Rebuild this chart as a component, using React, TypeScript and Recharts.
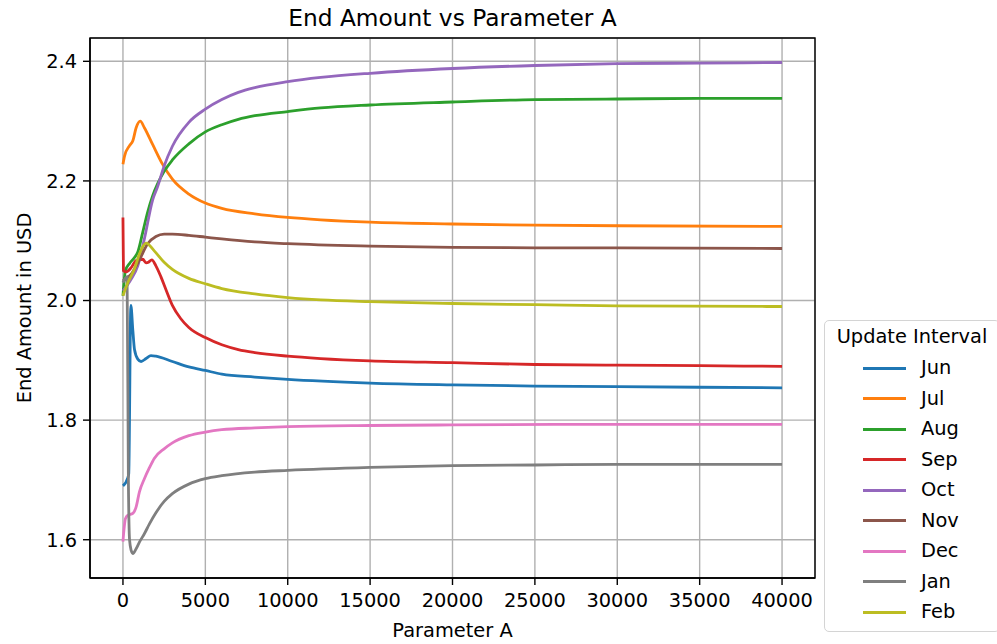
import React from "react";
import { LineChart, Line, XAxis, YAxis, CartesianGrid, Legend, ReferenceArea } from "recharts";

const FONT = "DejaVu Sans";
const X_TICKS = [0, 5000, 10000, 15000, 20000, 25000, 30000, 35000, 40000];
const Y_TICKS = [1.6, 1.8, 2.0, 2.2, 2.4];
const X_DOMAIN = [-2000, 42000];
const Y_DOMAIN = [1.536, 2.439];

const junX = [0, 300, 350, 480, 600, 700, 900, 1100, 1400, 1700, 2000, 3000, 4000, 5000, 6000, 8000, 10000, 15000, 20000, 25000, 30000, 40000];
const junY = [1.690, 1.704, 1.71, 1.992, 1.950, 1.918, 1.902, 1.898, 1.903, 1.908, 1.907, 1.898, 1.889, 1.883, 1.877, 1.872, 1.868, 1.862, 1.859, 1.857, 1.856, 1.854];

const julX = [0, 100, 400, 600, 800, 1050, 1300, 1800, 2400, 3000, 4000, 5000, 6000, 8000, 10000, 12000, 15000, 20000, 25000, 30000, 40000];
const julY = [2.228, 2.242, 2.259, 2.267, 2.289, 2.300, 2.289, 2.261, 2.228, 2.203, 2.178, 2.163, 2.154, 2.145, 2.139, 2.135, 2.131, 2.128, 2.126, 2.125, 2.124];

const augX = [0, 150, 400, 700, 900, 1200, 1500, 1800, 2100, 2500, 3000, 4000, 5000, 6000, 7000, 8000, 10000, 12000, 15000, 20000, 25000, 30000, 35000, 40000];
const augY = [2.008, 2.050, 2.062, 2.072, 2.081, 2.114, 2.148, 2.175, 2.195, 2.216, 2.235, 2.262, 2.282, 2.294, 2.303, 2.309, 2.316, 2.322, 2.327, 2.332, 2.336, 2.337, 2.338, 2.338];

const sepX = [0, 30, 200, 500, 800, 1000, 1200, 1400, 1550, 1750, 2000, 2300, 2600, 3000, 3500, 4000, 5000, 6000, 7000, 8000, 10000, 12000, 15000, 20000, 25000, 30000, 35000, 40000];
const sepY = [2.139, 2.050, 2.048, 2.055, 2.067, 2.068, 2.069, 2.063, 2.064, 2.068, 2.058, 2.040, 2.019, 1.992, 1.970, 1.955, 1.938, 1.926, 1.918, 1.913, 1.907, 1.903, 1.899, 1.896, 1.893, 1.892, 1.891, 1.890];

const octX = [0, 500, 900, 1300, 1800, 2100, 2500, 3000, 4000, 5000, 6000, 7000, 8000, 10000, 12000, 15000, 20000, 25000, 30000, 35000, 40000];
const octY = [2.016, 2.036, 2.058, 2.103, 2.168, 2.190, 2.225, 2.258, 2.298, 2.320, 2.336, 2.348, 2.356, 2.366, 2.373, 2.380, 2.388, 2.393, 2.396, 2.397, 2.398];

const novX = [0, 500, 1000, 1500, 2000, 2500, 3000, 4000, 5000, 6000, 8000, 10000, 15000, 20000, 25000, 30000, 40000];
const novY = [2.033, 2.044, 2.068, 2.095, 2.107, 2.111, 2.111, 2.109, 2.106, 2.103, 2.098, 2.095, 2.091, 2.089, 2.088, 2.088, 2.087];

const decX = [0, 150, 300, 600, 800, 1000, 1300, 1600, 1900, 2500, 3000, 4000, 5000, 6000, 8000, 10000, 15000, 20000, 30000, 40000];
const decY = [1.597, 1.635, 1.641, 1.644, 1.655, 1.680, 1.702, 1.720, 1.736, 1.752, 1.762, 1.774, 1.780, 1.784, 1.787, 1.789, 1.791, 1.792, 1.793, 1.793];

const janX = [0, 250, 330, 400, 500, 600, 800, 1000, 1300, 1600, 2000, 2500, 3000, 4000, 5000, 6000, 8000, 10000, 15000, 20000, 25000, 30000, 40000];
const janY = [2.030, 2.040, 1.700, 1.600, 1.582, 1.577, 1.585, 1.596, 1.610, 1.626, 1.645, 1.664, 1.677, 1.693, 1.702, 1.707, 1.713, 1.716, 1.721, 1.724, 1.725, 1.726, 1.726];

const febX = [0, 300, 700, 1000, 1400, 1900, 2500, 3000, 4000, 5000, 6000, 8000, 10000, 12000, 15000, 20000, 25000, 30000, 40000];
const febY = [2.008, 2.030, 2.053, 2.078, 2.096, 2.083, 2.064, 2.052, 2.037, 2.028, 2.020, 2.011, 2.005, 2.001, 1.998, 1.995, 1.993, 1.991, 1.990];

const SERIES = [
  { name: "Jun", color: "#1f77b4", xs: junX, ys: junY },
  { name: "Jul", color: "#ff7f0e", xs: julX, ys: julY },
  { name: "Aug", color: "#2ca02c", xs: augX, ys: augY },
  { name: "Sep", color: "#d62728", xs: sepX, ys: sepY },
  { name: "Oct", color: "#9467bd", xs: octX, ys: octY },
  { name: "Nov", color: "#8c564b", xs: novX, ys: novY },
  { name: "Dec", color: "#e377c2", xs: decX, ys: decY },
  { name: "Jan", color: "#7f7f7f", xs: janX, ys: janY },
  { name: "Feb", color: "#bcbd22", xs: febX, ys: febY },
];

const build = (xs: number[], ys: number[]) => xs.map((x, i) => ({ x, y: ys[i] }));

const FS = 19.4;

const LegendBox = (props: any) => {
  const payload: any[] = props.payload || [];
  const ordered = SERIES.map((s) => {
    const p = payload.find((q: any) => q.value === s.name);
    return { value: s.name, color: p ? p.color : s.color };
  });
  return (
    <div
      style={{
        position: "relative",
        width: 176,
        height: 312,
        border: "1.3px solid #d4d4d4",
        borderRadius: 5,
        background: "#fff",
        boxSizing: "border-box",
        fontFamily: FONT,
        fontSize: FS,
        color: "#000",
      }}
    >
      <div style={{ position: "absolute", left: 7, top: 3, width: 160, textAlign: "center", lineHeight: "26px", whiteSpace: "nowrap" }}>
        Update Interval
      </div>
      {ordered.map((p, i) => (
        <div key={p.value} style={{ position: "absolute", left: 0, top: 47 + i * 30.55 - 13, height: 26, width: 176 }}>
          <div style={{ position: "absolute", left: 38, top: 11.5, width: 43, height: 3, background: p.color }} />
          <div style={{ position: "absolute", left: 96, top: 0, lineHeight: "26px" }}>{p.value}</div>
        </div>
      ))}
    </div>
  );
};

const YLabel = (props: any) => {
  const vb = props.viewBox || { x: 0, y: 38, width: 90, height: 540 };
  const cx = vb.x + 24;
  const cy = vb.y + vb.height / 2;
  return (
    <text x={cx} y={cy} transform={`rotate(-90 ${cx} ${cy})`} textAnchor="middle" dominantBaseline="central" fontFamily={FONT} fontSize={FS} fill="#000">
      End Amount in USD
    </text>
  );
};

const XLabel = (props: any) => {
  const vb = props.viewBox || { x: 90, y: 578, width: 725, height: 66 };
  const cx = vb.x + vb.width / 2;
  const cy = vb.y + 52;
  return (
    <text x={cx} y={cy} textAnchor="middle" dominantBaseline="central" fontFamily={FONT} fontSize={FS} fill="#000">
      Parameter A
    </text>
  );
};

export default function App() {
  return (
    <div style={{ position: "absolute", left: 0, top: 0, width: 997, height: 644, overflow: "hidden", background: "#fff" }}>
      <div
        style={{
          position: "absolute",
          left: 90,
          width: 725,
          top: 4,
          textAlign: "center",
          fontFamily: FONT,
          fontSize: 23.3,
          lineHeight: "28px",
          color: "#000",
        }}
      >
        End Amount vs Parameter A
      </div>
      <LineChart width={997} height={644} margin={{ top: 38, right: 182, bottom: 0, left: 0 }}>
        <CartesianGrid stroke="#b0b0b0" strokeWidth={1.4} horizontal vertical />
        <XAxis
          dataKey="x"
          type="number"
          domain={X_DOMAIN}
          ticks={X_TICKS}
          allowDataOverflow
          height={66}
          tickSize={7}
          tickMargin={8}
          stroke="#000"
          tick={{ fontFamily: FONT, fontSize: FS, fill: "#000" }}
          tickLine={{ stroke: "#000", strokeWidth: 1.4 }}
          axisLine={{ stroke: "#000", strokeWidth: 1.4 }}
          label={<XLabel />}
          interval={0}
        />
        <YAxis
          dataKey="y"
          type="number"
          domain={Y_DOMAIN}
          ticks={Y_TICKS}
          allowDataOverflow
          width={90}
          tickSize={7}
          tickMargin={6}
          tickFormatter={(v: number) => v.toFixed(1)}
          tick={{ fontFamily: FONT, fontSize: FS, fill: "#000" }}
          tickLine={{ stroke: "#000", strokeWidth: 1.4 }}
          axisLine={{ stroke: "#000", strokeWidth: 1.4 }}
          label={<YLabel />}
          interval={0}
        />
        <ReferenceArea
          x1={X_DOMAIN[0]}
          x2={X_DOMAIN[1]}
          y1={Y_DOMAIN[0]}
          y2={Y_DOMAIN[1]}
          fill="none"
          fillOpacity={0}
          stroke="#000"
          strokeWidth={1.4}
          ifOverflow="visible"
        />
        {SERIES.map((s) => (
          <Line
            key={s.name}
            data={build(s.xs, s.ys)}
            dataKey="y"
            name={s.name}
            type="monotone"
            stroke={s.color}
            strokeWidth={2.8}
            dot={false}
            activeDot={false}
            isAnimationActive={false}
          />
        ))}
        <Legend
          layout="vertical"
          align="center"
          verticalAlign="middle"
          wrapperStyle={{ position: "absolute", left: 824, top: 320, width: 176, height: 312, margin: 0 }}
          content={<LegendBox />}
        />
      </LineChart>
    </div>
  );
}
